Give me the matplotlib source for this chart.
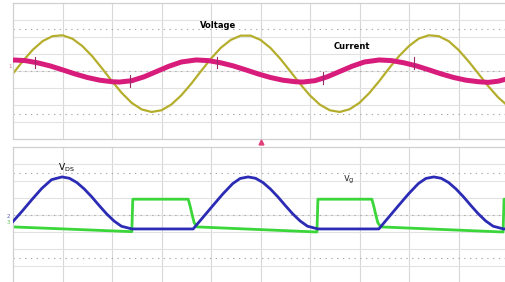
import matplotlib
matplotlib.use("Agg")
import matplotlib.pyplot as plt

# all positions in scope divisions (10 across, 8 high)

# top panel: line voltage (sine) and line current
volt_x = [i * 0.2 for i in range(51)]
volt_y = [-0.15, 0.59, 1.25, 1.76, 2.05, 2.10, 1.90, 1.47, 0.87, 0.15,
          -0.60, -1.30, -1.88, -2.26, -2.41, -2.31, -1.97, -1.43, -0.75, 0.00,
          0.73, 1.37, 1.83, 2.08, 2.08, 1.83, 1.36, 0.72, -0.01, -0.76,
          -1.44, -1.98, -2.31, -2.41, -2.25, -1.87, -1.29, -0.59, 0.17, 0.88,
          1.47, 1.91, 2.10, 2.05, 1.76, 1.24, 0.58, -0.15, -0.89, -1.55, -2.06]

curr_x = [0.0, 0.25, 0.5, 0.75, 1.0, 1.25, 1.5, 1.75, 2.0, 2.15, 2.4, 2.65, 2.9, 3.15, 3.4,
          3.7, 3.95, 4.2, 4.45, 4.7, 4.95, 5.2, 5.45, 5.7, 5.85, 6.1, 6.35, 6.6, 6.85, 7.1,
          7.4, 7.65, 7.9, 8.15, 8.4, 8.65, 8.9, 9.15, 9.4, 9.6, 9.8, 10.0]
curr_y = [0.65, 0.61, 0.48, 0.30, 0.07, -0.17, -0.38, -0.54, -0.63, -0.65, -0.57, -0.34, -0.03, 0.28, 0.53,
          0.65, 0.61, 0.48, 0.30, 0.07, -0.17, -0.38, -0.54, -0.63, -0.65, -0.57, -0.34, -0.03, 0.28, 0.53,
          0.65, 0.61, 0.48, 0.30, 0.07, -0.17, -0.38, -0.54, -0.63, -0.67, -0.60, -0.45]

# switching glitches on the current trace
glitch_x = [0.44, 2.36, 4.12, 6.26, 8.10]
glitch_y = [0.50, -0.60, 0.50, -0.40, 0.45]

# bottom panel: drain-source voltage and gate signal
vds_x = [0.0, 0.18, 0.38, 0.58, 0.78, 0.99, 1.14, 1.29, 1.44, 1.59, 1.74, 1.89, 2.04, 2.19, 2.40,
         3.64, 3.84, 4.04, 4.24, 4.44, 4.59, 4.75, 4.90, 5.05, 5.20, 5.35, 5.50, 5.65, 5.80, 5.95, 6.16,
         7.39, 7.59, 7.79, 7.99, 8.19, 8.34, 8.50, 8.65, 8.80, 8.95, 9.10, 9.25, 9.40, 9.55, 9.70, 9.91, 10.0]
vds_y = [-0.38, 0.21, 0.90, 1.56, 2.08, 2.24, 2.16, 1.91, 1.53, 1.07, 0.56, 0.07, -0.35, -0.66, -0.82,
         -0.82, -0.13, 0.56, 1.24, 1.85, 2.15, 2.24, 2.16, 1.91, 1.53, 1.07, 0.56, 0.07, -0.35, -0.66, -0.82,
         -0.82, -0.13, 0.56, 1.24, 1.85, 2.15, 2.24, 2.16, 1.91, 1.53, 1.07, 0.56, 0.07, -0.35, -0.66, -0.82, -0.82]

vg_x = [0.0, 2.40, 2.42, 3.54, 3.58, 3.62, 3.66, 3.72,
        6.14, 6.16, 7.25, 7.29, 7.33, 7.37, 7.43,
        9.90, 9.92, 10.0]
vg_y = [-0.70, -0.98, 0.93, 0.93, 0.50, 0.00, -0.45, -0.70,
        -1.00, 0.93, 0.93, 0.50, 0.00, -0.45, -0.70,
        -1.00, 0.93, 0.93]

W, H = 506, 282
fig = plt.figure(figsize=(W / 100, H / 100), dpi=100)
fig.patch.set_facecolor("white")

left = 13 / W
width = 495 / W
ax1 = fig.add_axes([left, 1 - 139 / H, width, 136 / H])
ax2 = fig.add_axes([left, 1 - 283 / H, width, 136 / H])

for ax in (ax1, ax2):
    ax.set_xlim(0, 10)
    ax.set_ylim(-4, 4)
    ax.set_xticks([])
    ax.set_yticks([])
    for s in ax.spines.values():
        s.set_color("#d0d0d0")
        s.set_linewidth(0.9)
    for gx in range(1, 10):
        ax.axvline(gx, color="#d8d8d8", lw=0.8, zorder=0)
    for gy in range(-3, 4):
        ax.axhline(gy, color="#e2e2e2", lw=0.8, zorder=0)
    for gy in (-2.5, 0, 2.5):
        ax.axhline(gy, color="#a8a8a8", lw=0.8, ls=(0, (1.2, 4)), zorder=0)

ax1.plot(volt_x, volt_y, color="#b5ae2c", lw=1.6, zorder=2)
ax1.plot(curr_x, curr_y, color="#d81c7c", lw=3.6, zorder=3, solid_capstyle="butt")
for gx, gy in zip(glitch_x, glitch_y):
    ax1.plot([gx, gx], [gy - 0.35, gy + 0.35], color="#9a2a6a", lw=0.8, zorder=4)

ax1.text(4.14, 2.7, "Voltage", fontsize=6, fontweight="bold", ha="center", va="center")
ax1.text(6.85, 1.47, "Current", fontsize=6, fontweight="bold", ha="center", va="center")
ax1.plot([5.01], [-4.2], marker="^", ms=3.5, color="#e0407a", clip_on=False, zorder=5)

ax2.plot(vg_x, vg_y, color="#3ad63a", lw=2.0, zorder=2)
ax2.plot(vds_x, vds_y, color="#2b2bb5", lw=2.0, zorder=3)
ax2.text(1.07, 2.76, r"$\mathregular{V_{DS}}$", fontsize=6.5, ha="center", va="center")
ax2.text(6.79, 2.06, r"$\mathregular{v_g}$", fontsize=7, ha="center", va="center", color="#333333")

# channel markers at the left edge
fig.text(10 / W, 1 - 66 / H, "1", fontsize=4, color="#e07aa0", ha="center", va="center")
fig.text(8 / W, 1 - 216 / H, "2", fontsize=4, color="#5a5ab8", ha="center", va="center")
fig.text(8 / W, 1 - 223 / H, "3", fontsize=4, color="#5ac85a", ha="center", va="center")

fig.savefig("out.png", dpi=100)
